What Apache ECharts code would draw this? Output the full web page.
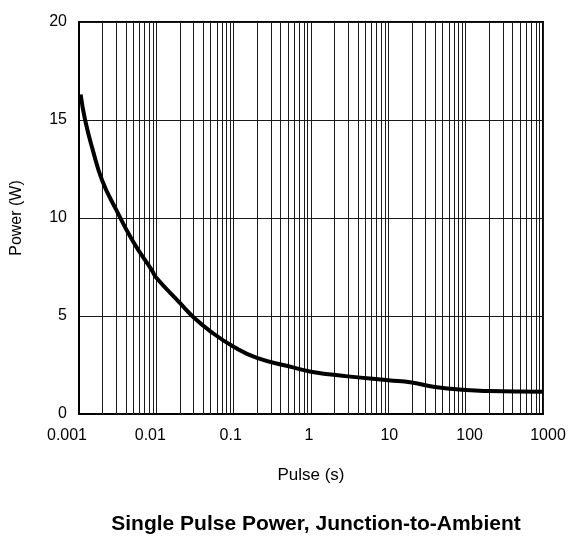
<!DOCTYPE html>
<html>
<head>
<meta charset="utf-8">
<script src="https://cdn.jsdelivr.net/npm/echarts@6/dist/echarts.min.js"></script>
<style>
  html, body { margin: 0; padding: 0; background: #fff; }
  #chart { width: 578px; height: 540px; }
</style>
</head>
<body>
<div id="chart"></div>
<script>
// Pulse width (s) and the allowed single-pulse power (W)
const pulseSeconds = [0.00105, 0.0012, 0.0015, 0.002, 0.003, 0.005, 0.0087, 0.01, 0.02, 0.03, 0.05, 0.1, 0.2, 0.5, 1, 3, 10, 20, 40, 100, 200, 1000];
const powerWatts   = [16.3,    15.0,   13.5,   11.9,  10.45, 8.8,   7.35,   6.95, 5.68, 4.95, 4.22, 3.43, 2.86, 2.45, 2.16, 1.92, 1.72, 1.61, 1.38, 1.22, 1.17, 1.14];

// Printed decade tick labels and the y tick labels
const xTickLabels = ['0.001', '0.01', '0.1', '1', '10', '100', '1000'];
const yTickLabels = ['0', '5', '10', '15', '20'];
// Horizontal nudge (px) of each decade label relative to its gridline
const xLabelNudge = [-12, -6, -3, -2, 1, 4, 5];

const FONT = "'Liberation Sans', Arial, Helvetica, sans-serif";
const GRID_COLOR = '#1a1a1a';

// Minor log gridlines at 2..9 within every decade
const decades = [0.001, 0.01, 0.1, 1, 10, 100];
const minorLines = [];
decades.forEach(d => { for (let k = 2; k <= 9; k++) minorLines.push(+(d * k).toPrecision(3)); });

// Rich-text styles that apply the nudges
const labelRich = {};
xLabelNudge.forEach((s, i) => {
  labelRich['l' + i] = {
    fontFamily: FONT, fontSize: 16, color: '#000',
    padding: s < 0 ? [0, -2 * s, 0, 0] : [0, 0, 0, 2 * s]
  };
});

const chart = echarts.init(document.getElementById('chart'), null, { renderer: 'canvas' });
chart.setOption({
  animation: false,
  backgroundColor: '#ffffff',
  title: {
    text: 'Single Pulse Power, Junction-to-Ambient',
    left: 311,
    top: 509,
    textAlign: 'center',
    textStyle: { fontFamily: FONT, fontSize: 21, fontWeight: 'bold', color: '#000' }
  },
  grid: {
    left: 79, right: 35, top: 22, bottom: 126,
    show: true, borderColor: '#000', borderWidth: 2, backgroundColor: 'transparent'
  },
  xAxis: {
    type: 'log',
    logBase: 10,
    min: 0.001,
    max: 1000,
    interval: 1,
    name: 'Pulse (s)',
    nameLocation: 'middle',
    nameGap: 53,
    nameTextStyle: { fontFamily: FONT, fontSize: 17, color: '#000' },
    axisLine: { show: true, lineStyle: { color: '#000', width: 2 } },
    axisTick: { show: false },
    axisLabel: {
      margin: 14, fontFamily: FONT, fontSize: 16, color: '#000',
      rich: labelRich,
      formatter: v => {
        const i = Math.round(Math.log10(v)) + 3;
        return xTickLabels[i] !== undefined ? '{l' + i + '|' + xTickLabels[i] + '}' : '';
      }
    },
    splitLine: { show: true, lineStyle: { color: GRID_COLOR, width: 1 } }
  },
  yAxis: {
    type: 'value',
    min: 0,
    max: 20,
    interval: 5,
    name: 'Power (W)',
    nameLocation: 'middle',
    nameGap: 54,
    nameTextStyle: { fontFamily: FONT, fontSize: 16, color: '#000' },
    axisLine: { show: true, lineStyle: { color: '#000', width: 2 } },
    axisTick: { show: false },
    axisLabel: {
      margin: 12, fontFamily: FONT, fontSize: 16, color: '#000',
      formatter: v => yTickLabels[Math.round(v / 5)]
    },
    splitLine: { show: true, lineStyle: { color: GRID_COLOR, width: 1 } }
  },
  series: [
    {
      name: 'minor grid',
      type: 'custom',
      z: 1,
      silent: true,
      data: minorLines.map(v => [v]),
      renderItem: (params, api) => {
        const x = api.value(0);
        const p0 = api.coord([x, 0]);
        const p1 = api.coord([x, 20]);
        const px = Math.round(p0[0]) + 0.5;
        return {
          type: 'line',
          shape: { x1: px, y1: p0[1], x2: px, y2: p1[1] },
          style: { stroke: GRID_COLOR, lineWidth: 1 }
        };
      }
    },
    {
      name: 'Power',
      type: 'line',
      z: 5,
      smooth: 0.5,
      symbol: 'none',
      lineStyle: { color: '#000', width: 4 },
      data: pulseSeconds.map((x, i) => [x, powerWatts[i]])
    }
  ]
});
</script>
</body>
</html>
